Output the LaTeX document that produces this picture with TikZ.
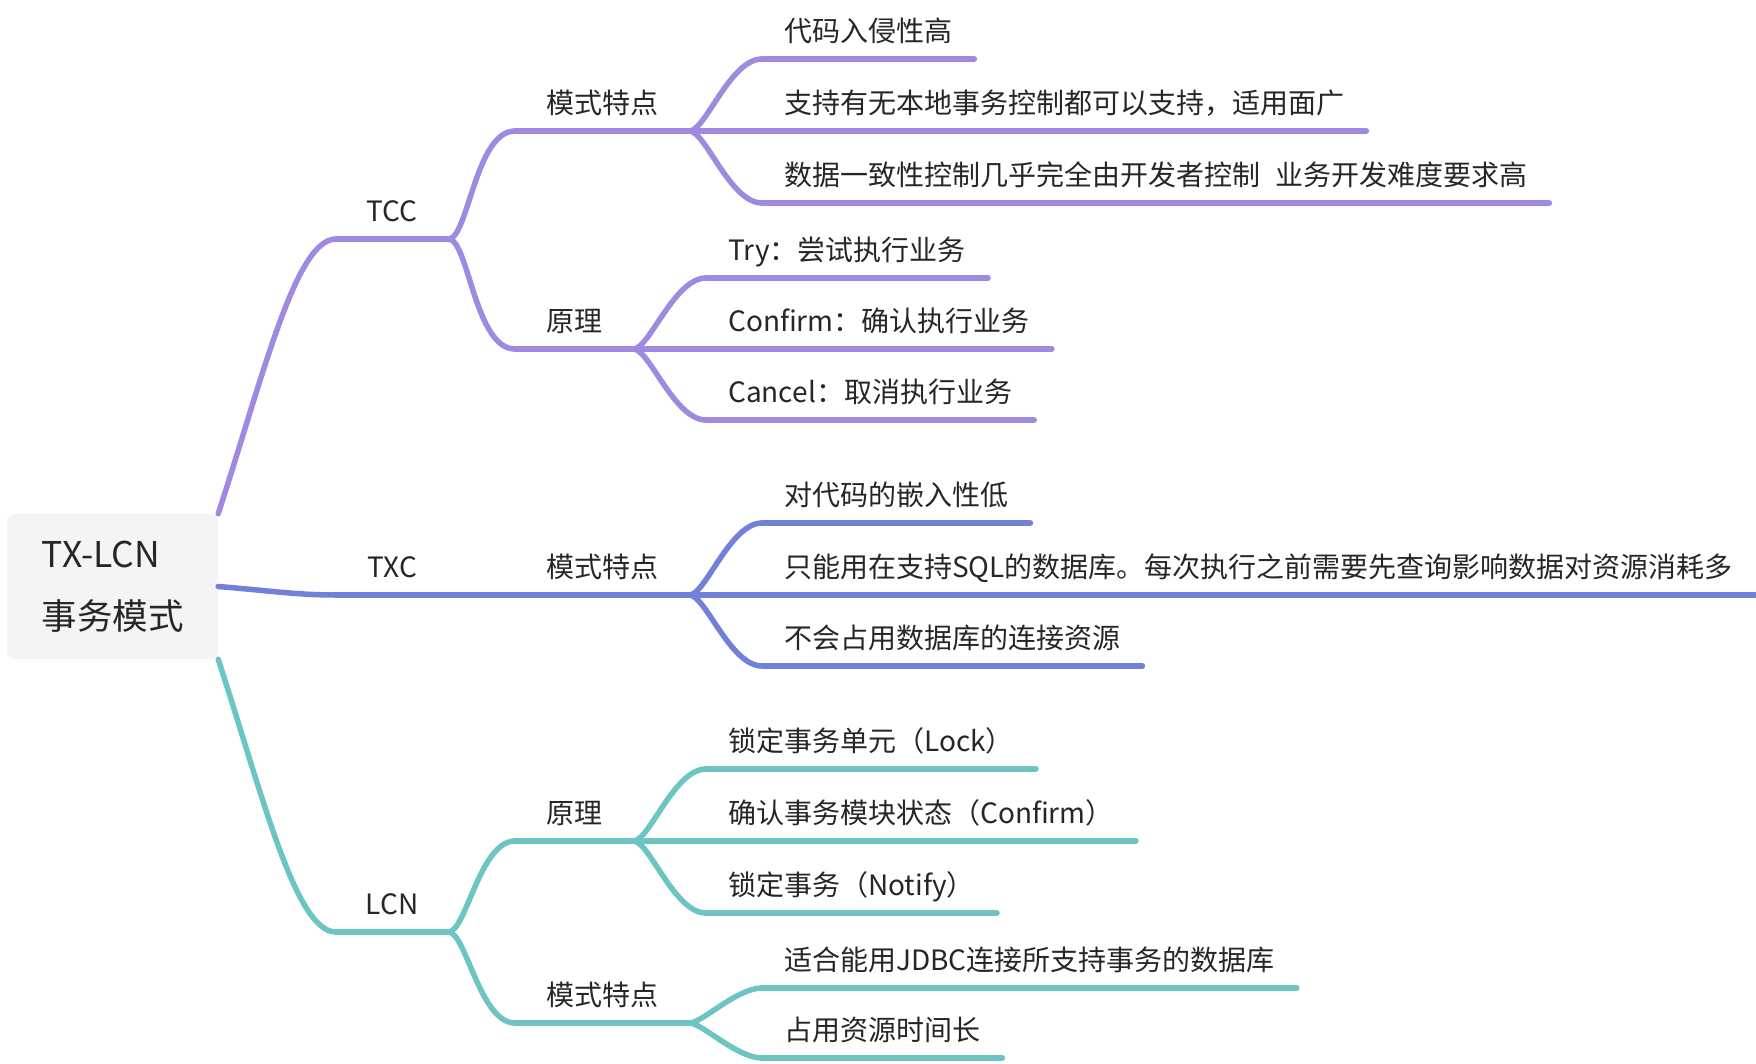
\documentclass[tikz,border=0pt]{standalone}
\usepackage{fontspec}
\setmainfont{Noto Sans CJK SC}
\usepackage{xcolor}
\definecolor{tccc}{HTML}{A08AE0}
\definecolor{txcc}{HTML}{7181D8}
\definecolor{lcnc}{HTML}{6CC5C3}
\definecolor{rootbg}{HTML}{F4F4F4}
\definecolor{ink}{HTML}{262626}
\newcommand{\tsize}{\fontsize{28}{34}\selectfont}

\begin{document}
\begin{tikzpicture}[x=1pt,y=1pt,
  lk/.style={line width=5.5pt,line cap=round},
  sw/.style={out=0,in=180,out looseness=0.4,in looseness=0.8},
  t/.style={anchor=south west,inner ysep=11pt,text height=22pt,text depth=6pt,text=ink,font=\tsize},
  t1/.style={t,inner xsep=0pt,minimum width=112pt},
  t2/.style={t,inner xsep=31pt},
  t3/.style={t,inner xsep=22pt}]
  \useasboundingbox (0,0) rectangle (1756,-1064);
  \node[fill=rootbg,rounded corners=8pt,minimum width=211pt,minimum height=145pt,
    align=left,text=ink,font=\fontsize{35.5}{62}\selectfont] (root) at (112.5,-586.5) {TX-LCN\\事务模式};
  % TCC
  \node[t1] (tcc) at (336,-239) {TCC};
  \node[t2] (tccmode) at (515,-131) {模式特点};
  \node[t2] (tccprin) at (515,-349) {原理};
  \node[t3] (tccm1) at (762,-59) {代码入侵性高};
  \node[t3] (tccm2) at (762,-131) {支持有无本地事务控制都可以支持，适用面广};
  \node[t3] (tccm3) at (762,-203) {数据一致性控制几乎完全由开发者控制\hspace{15pt}业务开发难度要求高};
  \node[t3] (tccp1) at (706,-278) {Try：尝试执行业务};
  \node[t3] (tccp2) at (706,-349) {Confirm：确认执行业务};
  \node[t3] (tccp3) at (706,-420) {Cancel：取消执行业务};
  % TXC
  \node[t1] (txc) at (336,-595) {TXC};
  \node[t2] (txcmode) at (515,-595) {模式特点};
  \node[t3] (txcm1) at (762,-523) {对代码的嵌入性低};
  \node[t3] (txcm2) at (762,-595) {只能用在支持SQL的数据库。每次执行之前需要先查询影响数据对资源消耗多};
  \node[t3] (txcm3) at (762,-666) {不会占用数据库的连接资源};
  % LCN
  \node[t1] (lcn) at (336,-932) {LCN};
  \node[t2] (lcnprin) at (515,-841) {原理};
  \node[t2] (lcnmode) at (515,-1023) {模式特点};
  \node[t3] (lcnp1) at (706,-769) {锁定事务单元（Lock）};
  \node[t3] (lcnp2) at (706,-841) {确认事务模块状态（Confirm）};
  \node[t3] (lcnp3) at (706,-913) {锁定事务（Notify）};
  \node[t3] (lcnm1) at (762,-988) {适合能用JDBC连接所支持事务的数据库};
  \node[t3] (lcnm2) at (762,-1058) {占用资源时间长};
  % underlines
  \foreach \n in {tcc,tccmode,tccprin,tccm1,tccm2,tccm3,tccp1,tccp2,tccp3}
    \draw[lk,tccc] (\n.south west) -- (\n.south east);
  \foreach \n in {txc,txcmode,txcm1,txcm2,txcm3}
    \draw[lk,txcc] (\n.south west) -- (\n.south east);
  \foreach \n in {lcn,lcnprin,lcnmode,lcnp1,lcnp2,lcnp3,lcnm1,lcnm2}
    \draw[lk,lcnc] (\n.south west) -- (\n.south east);
  % connectors
  \draw[lk,tccc] (root.north east) .. controls +(72:150) and +(-40,0) .. (tcc.south west);
  \draw[lk,txcc] (root.east) .. controls +(50,-4) and +(-40,0) .. (txc.south west);
  \draw[lk,lcnc] (root.south east) .. controls +(-72:150) and +(-40,0) .. (lcn.south west);
  \draw[lk,tccc] (tcc.south east) to[sw] (tccmode.south west);
  \draw[lk,tccc] (tcc.south east) to[sw] (tccprin.south west);
  \draw[lk,tccc] (tccmode.south east) to[sw] (tccm1.south west);
  \draw[lk,tccc] (tccmode.south east) -- (tccm2.south west);
  \draw[lk,tccc] (tccmode.south east) to[sw] (tccm3.south west);
  \draw[lk,tccc] (tccprin.south east) to[sw] (tccp1.south west);
  \draw[lk,tccc] (tccprin.south east) -- (tccp2.south west);
  \draw[lk,tccc] (tccprin.south east) to[sw] (tccp3.south west);
  \draw[lk,txcc] (txc.south east) -- (txcmode.south west);
  \draw[lk,txcc] (txcmode.south east) to[sw] (txcm1.south west);
  \draw[lk,txcc] (txcmode.south east) -- (txcm2.south west);
  \draw[lk,txcc] (txcmode.south east) to[sw] (txcm3.south west);
  \draw[lk,lcnc] (lcn.south east) to[sw] (lcnprin.south west);
  \draw[lk,lcnc] (lcn.south east) to[sw] (lcnmode.south west);
  \draw[lk,lcnc] (lcnprin.south east) to[sw] (lcnp1.south west);
  \draw[lk,lcnc] (lcnprin.south east) -- (lcnp2.south west);
  \draw[lk,lcnc] (lcnprin.south east) to[sw] (lcnp3.south west);
  \draw[lk,lcnc] (lcnmode.south east) to[sw] (lcnm1.south west);
  \draw[lk,lcnc] (lcnmode.south east) to[sw] (lcnm2.south west);
\end{tikzpicture}
\end{document}
